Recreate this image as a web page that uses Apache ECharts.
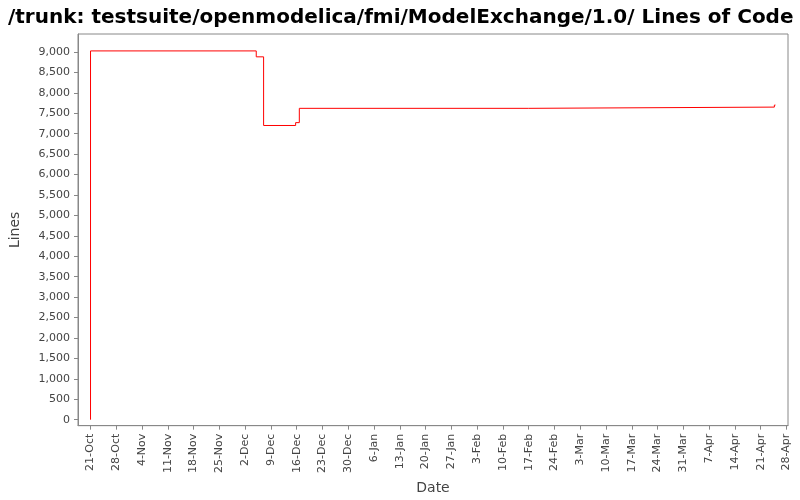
<!DOCTYPE html>
<html><head><meta charset="utf-8">
<script src="https://cdn.jsdelivr.net/npm/echarts@6/dist/echarts.min.js"></script>
<style>body{margin:0}#c{width:800px;height:500px}</style></head>
<body><div id="c"></div>
<script>
// days since 21-Oct
const stepDays = [0, 0, 45, 47, 55.7, 56.7, 119, 185.7, 186];
const stepValues = [0, 9025, 8880, 7200, 7270, 7620, 7650, 7700, 7700];
const tickLabels = ['21-Oct','28-Oct','4-Nov','11-Nov','18-Nov','25-Nov','2-Dec','9-Dec','16-Dec','23-Dec','30-Dec','6-Jan','13-Jan','20-Jan','27-Jan','3-Feb','10-Feb','17-Feb','24-Feb','3-Mar','10-Mar','17-Mar','24-Mar','31-Mar','7-Apr','14-Apr','21-Apr','28-Apr'];
const tickDays = tickLabels.map((_, i) => i * 7);
const yTicks = [0,500,1000,1500,2000,2500,3000,3500,4000,4500,5000,5500,6000,6500,7000,7500,8000,8500,9000];
const data = stepDays.map((d, i) => [d, stepValues[i]]);
const gray = '#444';
const chart = echarts.init(document.getElementById('c'));
chart.setOption({
  backgroundColor: '#fff',
  animation: false,
  title: {text: '/trunk: testsuite/openmodelica/fmi/ModelExchange/1.0/ Lines of Code', left: 3, top: 3,
    textStyle: {fontFamily: 'DejaVu Sans', fontWeight: 'bold', fontSize: 20, color: '#000'}},
  grid: {left: 78, right: 12, top: 34, bottom: 73, show: true, borderColor: '#888', borderWidth: 1, backgroundColor: '#fff'},
  xAxis: {type: 'value', min: -3.4, max: 189.4, name: 'Date', nameLocation: 'middle', nameGap: 52,
    nameTextStyle: {fontFamily: 'DejaVu Sans', fontSize: 14, color: gray},
    axisLine: {show: true, onZero: false, lineStyle: {color: '#888'}},
    axisTick: {show: true, customValues: tickDays, length: 4, lineStyle: {color: '#888'}},
    axisLabel: {customValues: tickDays, rotate: 90, fontFamily: 'DejaVu Sans', fontSize: 11, color: gray,
      formatter: v => tickLabels[Math.round(v / 7)] || ''},
    splitLine: {show: false}},
  yAxis: {type: 'value', min: -146, max: 9439, name: 'Lines', nameLocation: 'middle', nameGap: 56,
    nameTextStyle: {fontFamily: 'DejaVu Sans', fontSize: 14, color: gray},
    axisLine: {show: true, onZero: false, lineStyle: {color: '#888'}},
    axisTick: {show: true, customValues: yTicks, length: 4, lineStyle: {color: '#888'}},
    axisLabel: {customValues: yTicks, fontFamily: 'DejaVu Sans', fontSize: 11, color: gray,
      formatter: v => Math.round(v).toLocaleString('en-US')},
    splitLine: {show: false}},
  series: [{type: 'line', step: 'end', data: data, symbol: 'none', lineStyle: {color: '#ff0000', width: 1}}]
});
</script></body></html>
